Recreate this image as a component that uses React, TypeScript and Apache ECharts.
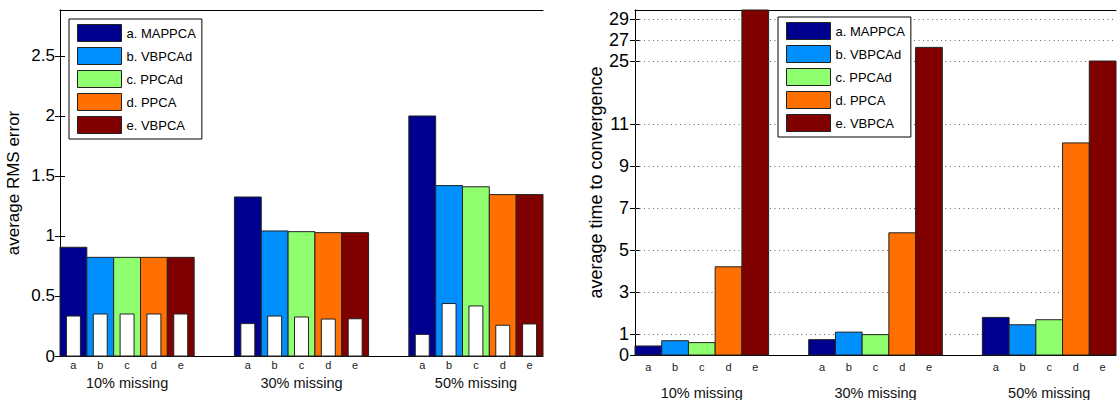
import React, { useEffect, useRef } from 'react';
import * as echarts from 'echarts';

const methods = ['a. MAPPCA', 'b. VBPCAd', 'c. PPCAd', 'd. PPCA', 'e. VBPCA'];
const methodLetters = ['a', 'b', 'c', 'd', 'e'];
const groups = ['10% missing', '30% missing', '50% missing'];
const colors = ['#00008F', '#008FFF', '#8FFF70', '#FF7000', '#800000'];

// average RMS error (coloured bars), per method across the three groups
const rmsA = [0.906, 1.325, 2.0];
const rmsB = [0.822, 1.042, 1.42];
const rmsC = [0.822, 1.036, 1.41];
const rmsD = [0.822, 1.028, 1.345];
const rmsE = [0.822, 1.028, 1.345];
// inner white bars
const innerA = [0.333, 0.27, 0.18];
const innerB = [0.35, 0.333, 0.437];
const innerC = [0.35, 0.325, 0.417];
const innerD = [0.35, 0.308, 0.256];
const innerE = [0.35, 0.31, 0.267];

// average time to convergence
const timeA = [0.43, 0.73, 1.79];
const timeB = [0.68, 1.09, 1.44];
const timeC = [0.59, 0.97, 1.68];
const timeD = [4.2, 5.82, 10.1];
const timeE = [30.5, 26.3, 25.0];

const rmsTicks = [0, 0.5, 1, 1.5, 2, 2.5];
const timeTicks = [0, 1, 3, 5, 7, 9, 11, 25, 27, 29];

const rmsAll = [rmsA, rmsB, rmsC, rmsD, rmsE];
const innerAll = [innerA, innerB, innerC, innerD, innerE];
const timeAll = [timeA, timeB, timeC, timeD, timeE];

// broken time axis: value -> display units
const tf = (v: number) => (v <= 11 ? v : v <= 25 ? 11 + ((v - 11) * 3) / 14 : 14 + (v - 25) / 2);

const FONT = 'Liberation Sans, Arial, Helvetica, sans-serif';
const GROUP_STEP = 6.5;
const X_MAX = 18;
const RMS_MAX = 2.883;
const TIME_DMAX = 16.43;

const xCenters: number[] = [];
const xLetters: string[] = [];
groups.forEach((_, g) => methodLetters.forEach((l, i) => { xCenters.push(g * GROUP_STEP + i + 0.5); xLetters.push(l); }));
const groupCenters = groups.map((_, g) => g * GROUP_STEP + 2.5);

const nearest = (vals: number[], labels: string[], v: number) => {
  let best = 0;
  vals.forEach((x, k) => { if (Math.abs(x - v) < Math.abs(vals[best] - v)) best = k; });
  return Math.abs(vals[best] - v) < 1e-3 ? labels[best] : '';
};

const makeRender = (fill: string, stroke: string) => (params: any, api: any) => {
  const p0 = api.coord([api.value(0), api.value(2)]);
  const p1 = api.coord([api.value(1), 0]);
  const cs = params.coordSys;
  const shape = echarts.graphic.clipRectByRect(
    { x: p0[0], y: p0[1], width: p1[0] - p0[0], height: p1[1] - p0[1] },
    { x: cs.x, y: cs.y, width: cs.width, height: cs.height }
  );
  if (!shape) return null;
  return { type: 'rect', shape, style: { fill, stroke, lineWidth: 1 } };
};

const barData = (vals: number[], i: number, lo: number, hi: number, t: (v: number) => number) =>
  vals.map((v, g) => [g * GROUP_STEP + i + lo, g * GROUP_STEP + i + hi, t(v)]);

const ident = (v: number) => v;

function buildOption(): any {
  const xAxes: any[] = [];
  const yAxes: any[] = [];
  [0, 1].forEach((gi) => {
    xAxes.push({
      type: 'value', gridIndex: gi, min: 0, max: X_MAX, position: 'bottom',
      axisLine: { show: true, lineStyle: { color: '#000', width: 1 } },
      axisTick: { show: false }, splitLine: { show: false },
      axisLabel: {
        customValues: xCenters, margin: gi === 0 ? 3 : 6, fontSize: 11, fontFamily: FONT, color: '#222',
        formatter: (v: number) => nearest(xCenters, xLetters, v),
      },
    });
    xAxes.push({
      type: 'value', gridIndex: gi, min: 0, max: X_MAX, position: 'bottom',
      axisLine: { show: false }, axisTick: { show: false }, splitLine: { show: false },
      axisLabel: {
        customValues: groupCenters, margin: gi === 0 ? 19 : 30, fontSize: 14.5, fontFamily: FONT, color: '#111',
        formatter: (v: number) => nearest(groupCenters, groups, v),
      },
    });
    xAxes.push({
      type: 'value', gridIndex: gi, min: 0, max: X_MAX, position: 'top',
      axisLine: { show: true, lineStyle: { color: '#000', width: 1 } },
      axisTick: { show: false }, axisLabel: { show: false }, splitLine: { show: false },
    });
  });

  const timeTickPos = timeTicks.map(tf);
  const timeTickLabels = timeTicks.map(String);
  const rmsTickLabels = rmsTicks.map(String);

  // left chart y axes
  yAxes.push({
    type: 'value', gridIndex: 0, min: 0, max: RMS_MAX, position: 'left',
    name: 'average RMS error', nameLocation: 'middle', nameRotate: 90, nameGap: 38,
    nameTextStyle: { fontSize: 17, fontFamily: FONT, color: '#000' },
    axisLine: { show: true, lineStyle: { color: '#000', width: 1 } },
    axisTick: { show: true, inside: true, length: 5, customValues: rmsTicks, lineStyle: { color: '#000' } },
    axisLabel: { customValues: rmsTicks, margin: 5, fontSize: 17, fontFamily: FONT, color: '#000',
      formatter: (v: number) => nearest(rmsTicks, rmsTickLabels, v) },
    splitLine: { show: false },
  });
  yAxes.push({
    type: 'value', gridIndex: 0, min: 0, max: RMS_MAX, position: 'right',
    axisLine: { show: true, lineStyle: { color: '#000', width: 1 } },
    axisTick: { show: true, inside: true, length: 5, customValues: rmsTicks, lineStyle: { color: '#000' } },
    axisLabel: { show: false }, splitLine: { show: false },
  });
  // right chart y axes
  yAxes.push({
    type: 'value', gridIndex: 1, min: 0, max: TIME_DMAX, position: 'left',
    name: 'average time to convergence', nameLocation: 'middle', nameRotate: 90, nameGap: 26,
    nameTextStyle: { fontSize: 18, fontFamily: FONT, color: '#000' },
    axisLine: { show: true, lineStyle: { color: '#000', width: 1 } },
    axisTick: { show: true, inside: true, length: 5, customValues: timeTickPos, lineStyle: { color: '#000' } },
    axisLabel: { customValues: timeTickPos, margin: 6, fontSize: 18, fontFamily: FONT, color: '#000',
      formatter: (v: number) => nearest(timeTickPos, timeTickLabels, v) },
    splitLine: { show: false },
  });
  yAxes.push({
    type: 'value', gridIndex: 1, min: 0, max: TIME_DMAX, position: 'right',
    axisLine: { show: true, lineStyle: { color: '#000', width: 1 } },
    axisTick: { show: true, inside: true, length: 5, customValues: timeTickPos, lineStyle: { color: '#000' } },
    axisLabel: { show: false }, splitLine: { show: false },
  });

  const series: any[] = [];
  // dotted grid lines on right chart
  series.push({
    type: 'custom', name: 'grid', xAxisIndex: 3, yAxisIndex: 2, z: 1, silent: true,
    data: timeTickPos.filter((d) => d > 0).map((d) => [d]),
    renderItem: (params: any, api: any) => {
      const d = api.value(0);
      const a = api.coord([0, d]);
      const b = api.coord([X_MAX, d]);
      const y = Math.round(a[1]) + 0.5;
      return { type: 'line', shape: { x1: a[0], y1: y, x2: b[0], y2: y },
        style: { stroke: '#666', lineWidth: 1, lineDash: [1, 3.5] } };
    },
  });

  methods.forEach((m, i) => {
    series.push({
      type: 'custom', name: m, xAxisIndex: 0, yAxisIndex: 0, z: 2,
      itemStyle: { color: colors[i], borderColor: '#222', borderWidth: 1 },
      data: barData(rmsAll[i], i, 0, 1, ident),
      renderItem: makeRender(colors[i], '#222'),
    });
    series.push({
      type: 'custom', name: 'inner-' + i, xAxisIndex: 0, yAxisIndex: 0, z: 3,
      itemStyle: { color: '#fff' },
      data: barData(innerAll[i], i, 0.24, 0.76, ident),
      renderItem: makeRender('#fff', '#222'),
    });
    series.push({
      type: 'custom', name: m, xAxisIndex: 3, yAxisIndex: 2, z: 2,
      itemStyle: { color: colors[i], borderColor: '#222', borderWidth: 1 },
      data: barData(timeAll[i], i, 0, 1, tf),
      renderItem: makeRender(colors[i], '#222'),
    });
  });

  const legendBase = {
    orient: 'vertical', selectedMode: false, data: methods, icon: 'rect',
    itemWidth: 44, itemHeight: 17, itemGap: 5,
    backgroundColor: '#fff', borderColor: '#000', borderWidth: 1,
    textStyle: { fontSize: 13, fontFamily: FONT, color: '#000' },
    itemStyle: { borderColor: '#222', borderWidth: 1 },
  };

  return {
    animation: false,
    backgroundColor: '#fff',
    grid: [
      { left: 60, top: 10, width: 483, height: 346, containLabel: false },
      { left: 635, top: 10, width: 481, height: 346, containLabel: false },
    ],
    xAxis: xAxes,
    yAxis: yAxes,
    legend: [
      { ...legendBase, left: 69, top: 19, padding: [5, 6, 5, 8] },
      { ...legendBase, left: 778, top: 17, padding: [5, 6, 5, 8] },
    ],
    series,
  };
}

export default function App() {
  const ref = useRef<HTMLDivElement>(null);
  useEffect(() => {
    if (!ref.current) return;
    const chart = echarts.init(ref.current, undefined, { renderer: 'svg' });
    chart.setOption(buildOption());
    return () => chart.dispose();
  }, []);
  return <div ref={ref} style={{ position: 'absolute', left: 0, top: 0, width: 1117, height: 400 }} />;
}
